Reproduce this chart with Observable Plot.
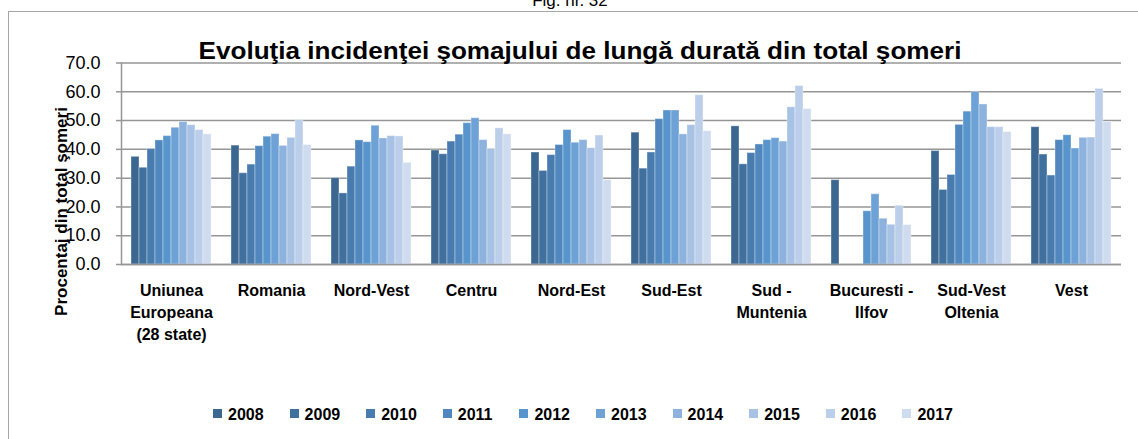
<!DOCTYPE html>
<html><head><meta charset="utf-8">
<script src="https://cdn.jsdelivr.net/npm/d3@7"></script>
<script src="https://cdn.jsdelivr.net/npm/@observablehq/plot@0.6"></script>
<style>
body{margin:0;background:#fff;font-family:"Liberation Sans",Arial,sans-serif;color:#000;}
#wrap{position:relative;width:1138px;height:439px;overflow:hidden;}
#box{position:absolute;left:8px;top:11px;width:1140px;height:460px;border:1px solid #a6a6a6;box-sizing:border-box;}
#fig{position:absolute;left:370px;width:400px;top:-7.9px;text-align:center;font-size:17px;line-height:17px;}
#chart{position:absolute;left:0;top:0;}
#title{position:absolute;left:80px;width:1000px;top:40px;text-align:center;font-size:23px;line-height:23px;font-weight:bold;white-space:nowrap;transform:scaleX(1.135);transform-origin:500px 50%;}
#ylab{position:absolute;left:-69px;width:260px;top:202.5px;text-align:center;font-size:17px;line-height:17px;font-weight:bold;transform:rotate(-90deg);white-space:nowrap;}
#legend{position:absolute;left:0;top:0;}
.sw{position:absolute;width:9px;height:9px;top:409px;}
.lt{position:absolute;top:406.5px;font-size:16px;line-height:16px;font-weight:bold;white-space:nowrap;}
</style></head><body>
<div id="wrap">
  <div id="box"></div>
  <div id="fig">Fig. nr. 32</div>
  <div id="chart"></div>
  <div id="title">Evoluţia incidenţei şomajului de lungă durată din total şomeri</div>
  <div id="ylab">Procentaj din total şomeri</div>
  <div id="legend"></div>
</div>
<script>
const years = [2008, 2009, 2010, 2011, 2012, 2013, 2014, 2015, 2016, 2017];
const colors = ["#3b6791", "#40709e", "#487bae", "#4f87be", "#5895cd", "#6ea2d6", "#8db2dd", "#a8c2e5", "#bccfea", "#cfdbef"];
const regions = ["Uniunea Europeana (28 state)", "Romania", "Nord-Vest", "Centru", "Nord-Est", "Sud-Est", "Sud - Muntenia", "Bucuresti - Ilfov", "Sud-Vest Oltenia", "Vest"];
const regionLabels = ["Uniunea\nEuropeana\n(28 state)", "Romania", "Nord-Vest", "Centru", "Nord-Est", "Sud-Est", "Sud -\nMuntenia", "Bucuresti -\nIlfov", "Sud-Vest\nOltenia", "Vest"];
const yTicks = [0, 10, 20, 30, 40, 50, 60, 70];

// values per region, 2008..2017 (null = no data)
const ue = [37.4, 33.6, 40.1, 43.1, 44.6, 47.5, 49.5, 48.4, 46.7, 45.2];
const romania = [41.3, 31.7, 34.7, 41.1, 44.4, 45.3, 41.2, 44.0, 50.2, 41.5];
const nordVest = [30.0, 24.7, 34.0, 43.1, 42.5, 48.2, 43.8, 44.6, 44.5, 35.3];
const centru = [39.6, 38.3, 42.7, 45.1, 49.1, 50.8, 43.2, 40.1, 47.3, 45.2];
const nordEst = [38.9, 32.5, 38.0, 41.5, 46.7, 42.3, 43.2, 40.4, 44.8, 29.3];
const sudEst = [45.8, 33.3, 38.9, 50.5, 53.5, 53.5, 45.2, 48.4, 58.8, 46.3];
const sudMuntenia = [48.0, 34.8, 38.7, 41.7, 43.2, 43.9, 42.7, 54.6, 62.0, 54.0];
const bucurestiIlfov = [29.3, null, null, null, 18.5, 24.4, 15.9, 13.8, 20.4, 13.7];
const sudVestOltenia = [39.4, 25.9, 31.1, 48.5, 53.1, 59.9, 55.6, 47.7, 47.7, 46.0];
const vest = [47.7, 38.2, 30.9, 43.2, 44.9, 40.3, 44.0, 44.1, 61.0, 49.5];
const series = [ue, romania, nordVest, centru, nordEst, sudEst, sudMuntenia, bucurestiIlfov, sudVestOltenia, vest];

const rows = [];
regions.forEach((r, i) => years.forEach((y, j) => {
  const v = series[i][j];
  if (v != null) rows.push({region: r, year: y, value: v});
}));

const font = '"Liberation Sans", Arial, sans-serif';
const chart = Plot.plot({
  width: 1138, height: 439,
  marginLeft: 117, marginRight: 13, marginTop: 62.5, marginBottom: 175,
  style: {fontFamily: font, color: "#000", background: "transparent", overflow: "visible"},
  fx: {domain: regions, padding: 0, label: null},
  x: {type: "band", domain: years, paddingInner: 0, paddingOuter: 0.727, axis: null},
  y: {domain: [0, 70], label: null},
  color: {type: "ordinal", domain: years, range: colors},
  marks: [
    Plot.gridY({ticks: yTicks, stroke: "#969696", strokeOpacity: 1, strokeWidth: 1.5}),
    Plot.barY(rows, {fx: "region", x: "year", y: "value", fill: "year", stroke: "#ffffff", strokeOpacity: 0.35, strokeWidth: 1}),
    Plot.ruleY([0], {stroke: "#969696", strokeWidth: 1.5}),
    Plot.axisY({ticks: yTicks, tickFormat: d => d.toFixed(1), tickSize: 5, tickPadding: 16, fontSize: 18, stroke: "#969696", strokeWidth: 1.5, label: null}),
    Plot.axisFx({anchor: "bottom", tickSize: 0, tickPadding: 16, fontSize: 16, fontWeight: "bold", lineHeight: 1.375, tickFormat: d => regionLabels[regions.indexOf(d)], label: null}),
    Plot.frame({anchor: "left", facetAnchor: "left", stroke: "#969696", strokeWidth: 1.5})
  ]
});
document.getElementById("chart").appendChild(chart);

const legend = document.getElementById("legend");
years.forEach((y, i) => {
  const x0 = 213 + i * 76.6;
  const sw = document.createElement("div");
  sw.className = "sw"; sw.style.left = x0 + "px"; sw.style.background = colors[i];
  const lt = document.createElement("div");
  lt.className = "lt"; lt.style.left = (x0 + 15) + "px"; lt.textContent = y;
  legend.appendChild(sw); legend.appendChild(lt);
});
</script>
</body></html>
